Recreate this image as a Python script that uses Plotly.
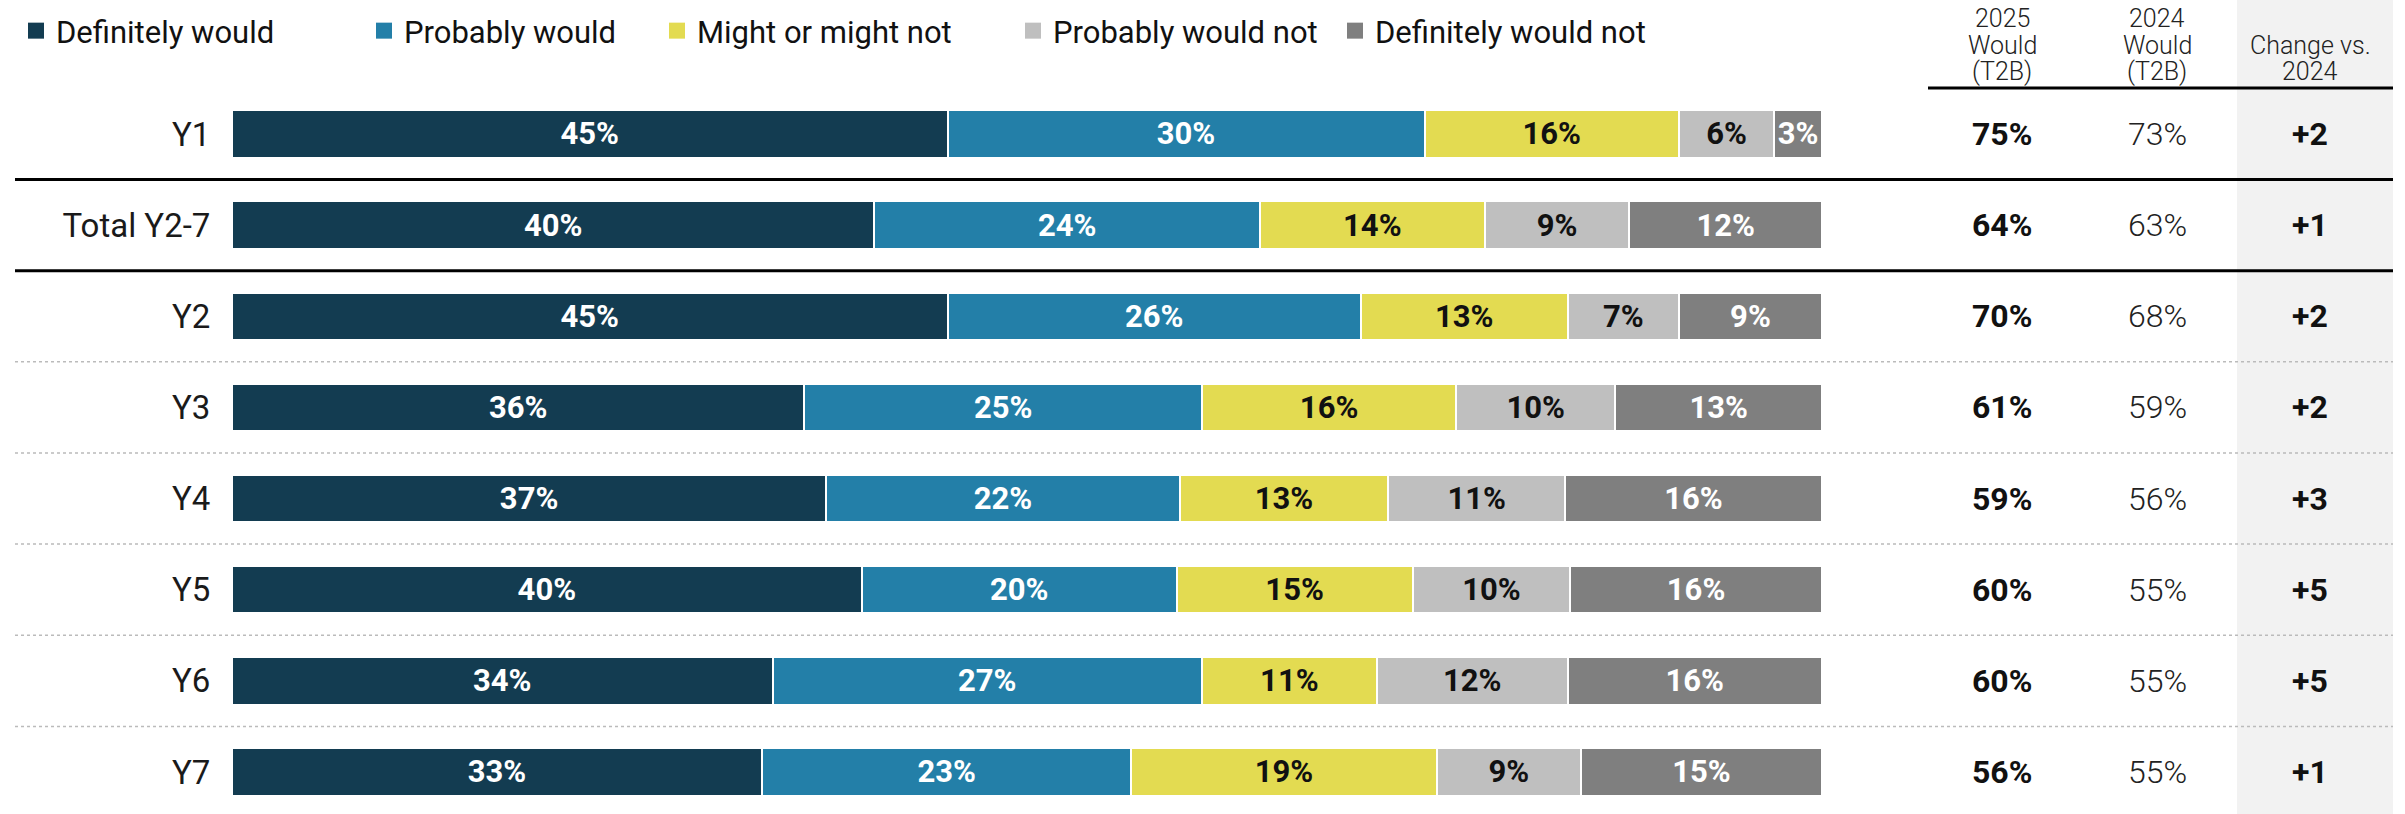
import plotly.graph_objects as go

# ---------------- data ----------------
rows = ["Y1", "Total Y2-7", "Y2", "Y3", "Y4", "Y5", "Y6", "Y7"]
series_names = ["Definitely would", "Probably would", "Might or might not",
                "Probably would not", "Definitely would not"]
definitely_would = [45, 40, 45, 36, 37, 40, 34, 33]
probably_would = [30, 24, 26, 25, 22, 20, 27, 23]
might_or_might_not = [16, 14, 13, 16, 13, 15, 11, 19]
probably_would_not = [6, 9, 7, 10, 11, 10, 12, 9]
definitely_would_not = [3, 12, 9, 13, 16, 16, 16, 15]
t2b_2025 = [75, 64, 70, 61, 59, 60, 60, 56]
t2b_2024 = [73, 63, 68, 59, 56, 55, 55, 55]
change_vs_2024 = [2, 1, 2, 2, 3, 5, 5, 1]
column_headers = [["2025", "Would", "(T2B)"], ["2024", "Would", "(T2B)"], ["Change vs.", "2024"]]

series_values = [definitely_would, probably_would, might_or_might_not,
                 probably_would_not, definitely_would_not]

# ---------------- style ----------------
W, H = 2405, 814
bar_colors = ["#133C51", "#237FA8", "#E3DB51", "#BFBFBF", "#7F7F7F"]
label_colors = ["#FFFFFF", "#FFFFFF", "#111111", "#111111", "#FFFFFF"]
legend_widths = [303, 248, 311, 277, 340]
FONT = "Roboto, 'Noto Sans', sans-serif"


def px(x):
    return x / W


def py(y):
    return 1 - y / H


fig = go.Figure()
for name, vals, col, tcol in zip(series_names, series_values, bar_colors, label_colors):
    fig.add_trace(go.Bar(
        name=name, y=rows, x=vals, orientation="h", legendgroup=name, showlegend=False,
        marker=dict(color=col, line=dict(color="white", width=2)),
        text=[f"{v}%" for v in vals], texttemplate="%{text}",
        textposition="inside", insidetextanchor="middle", textangle=0,
        textfont=dict(color=tcol, size=31, family=FONT, weight="bold"),
        width=0.52, hoverinfo="skip",
    ))
# legend keys (square swatches, no data)
for name, col, lw in zip(series_names, bar_colors, legend_widths):
    fig.add_trace(go.Scatter(
        name=name, x=[None], y=[None], mode="markers", legendgroup=name,
        marker=dict(symbol="square", size=16, color=col, line=dict(width=0)),
        hoverinfo="skip", legendwidth=lw, showlegend=True,
    ))

annotations = []
col_x = [2002, 2157, 2310]
line_y = [19, 45, 71]
for cx, head in zip(col_x, column_headers):
    offs = line_y[len(line_y) - len(head):]
    for txt, ly in zip(head, offs):
        annotations.append(dict(
            x=px(cx), y=py(ly), xref="paper", yref="paper", text=txt,
            showarrow=False, xanchor="center", yanchor="middle",
            font=dict(size=25, family=FONT, color="#222222", weight=300),
        ))
for r, a, b, c in zip(rows, t2b_2025, t2b_2024, change_vs_2024):
    annotations.append(dict(x=px(col_x[0]), y=r, xref="paper", yref="y",
                            text=f"{a}%", showarrow=False, xanchor="center", yanchor="middle",
                            font=dict(size=32, family=FONT, color="#111111", weight="bold")))
    annotations.append(dict(x=px(col_x[1]), y=r, xref="paper", yref="y",
                            text=f"{b}%", showarrow=False, xanchor="center", yanchor="middle",
                            font=dict(size=32, family=FONT, color="#222222", weight=300)))
    annotations.append(dict(x=px(col_x[2]), y=r, xref="paper", yref="y",
                            text=f"+{c}", showarrow=False, xanchor="center", yanchor="middle",
                            font=dict(size=32, family=FONT, color="#111111", weight="bold")))

shapes = [
    # shaded change column
    dict(type="rect", xref="paper", yref="paper", x0=px(2237), x1=px(2393),
         y0=0, y1=1, fillcolor="#F2F2F2", line=dict(width=0), layer="below"),
    # header rule
    dict(type="line", xref="paper", yref="paper", x0=px(1928), x1=px(2393),
         y0=py(88), y1=py(88), line=dict(color="#000000", width=3)),
]
for i in range(len(rows) - 1):
    yv = i + 0.5
    if i < 2:
        shapes.append(dict(type="line", xref="paper", yref="y", x0=px(15), x1=px(2393),
                           y0=yv, y1=yv, line=dict(color="#000000", width=3)))
    else:
        shapes.append(dict(type="line", xref="paper", yref="y", x0=px(15), x1=px(2393),
                           y0=yv, y1=yv, line=dict(color="#BBBBBB", width=1.5, dash="dot")))

fig.update_layout(
    width=W, height=H, barmode="stack", barnorm="percent",
    margin=dict(l=0, r=0, t=0, b=0),
    paper_bgcolor="white", plot_bgcolor="rgba(0,0,0,0)",
    font=dict(family=FONT, color="#111111"),
    xaxis=dict(domain=[px(232), px(1822)], range=[0, 100], visible=False, fixedrange=True),
    yaxis=dict(type="category", categoryorder="array", categoryarray=rows,
               range=[7.461, -1.470], showgrid=False, zeroline=False, showline=False,
               ticks="outside", ticklen=14, tickcolor="rgba(0,0,0,0)",
               tickfont=dict(size=33, family=FONT, color="#1A1A1A"), fixedrange=True),
    legend=dict(orientation="h", x=px(16), y=py(31), xanchor="left", yanchor="middle",
                font=dict(size=31, family=FONT, color="#111111"),
                traceorder="normal", bgcolor="rgba(0,0,0,0)", itemclick=False,
                itemdoubleclick=False),
    uniformtext=dict(minsize=31, mode="show"),
    annotations=annotations, shapes=shapes,
)

fig.write_html("out.html", config={"displayModeBar": False},
               post_script="document.body.style.margin='0';document.body.style.overflow='hidden';")
